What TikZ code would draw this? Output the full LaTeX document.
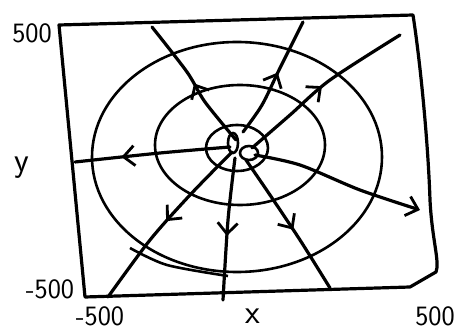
\documentclass[tikz,border=0pt]{standalone}
\usetikzlibrary{arrows.meta,decorations.markings}
\tikzset{barbtip/.tip={Straight Barb[length=11pt,width=20pt,line width=2.8pt]}}
\begin{document}
\begin{tikzpicture}[x=1pt,y=-1pt,
  ink/.style={line width=3.2pt,line cap=round,line join=round,black},
  contour/.style={line width=2.6pt,black},
  midarrow/.style={postaction={decorate},decoration={markings,
     mark=at position #1 with {\arrow{barbtip}}}},
  lab/.style={font=\sffamily\fontsize{28}{28}\selectfont,inner sep=0pt},
  letter/.style={font=\sffamily\fontsize{34}{34}\selectfont,inner sep=0pt}]
\useasboundingbox (0,0) rectangle (456,331);
% frame
\draw[ink] (59,25) -- (413,15) .. controls (420,60) and (428,140) .. (430,200)
  .. controls (432,240) and (440,262) .. (436,272) -- (410,287) -- (85,297) -- cycle;
% contours
\coordinate (c) at (237,150);
\draw[contour] (237,157) ellipse [x radius=145, y radius=115];
\draw[contour] (240,145) ellipse [x radius=85, y radius=60];
\draw[contour] (237,148) ellipse [x radius=31, y radius=23];
\draw[contour] (233,143) ellipse [x radius=5, y radius=10];
\draw[contour] (249,153) ellipse [x radius=9, y radius=7];
\draw[contour] plot[smooth] coordinates {(130,248) (167,265) (228,276)};
% trajectories
\draw[ink,midarrow=0.5] plot[smooth] coordinates {(236,140) (205,102) (187,72) (152,27)};
\draw[ink,midarrow=0.55] plot[smooth] coordinates {(243,132) (262,105) (280,68) (303,22)};
\draw[ink,midarrow=0.5] plot[smooth] coordinates {(252,148) (290,115) (330,80) (400,35)};
\draw[ink,midarrow=0.7] plot[smooth] coordinates {(230,147) (160,153) (75,162)};
\draw[ink,-{barbtip}] plot[smooth] coordinates {(255,155) (300,165) (360,190) (420,210)};
\draw[ink,midarrow=0.55] plot[smooth] coordinates {(246,160) (270,195) (300,240) (330,288)};
\draw[ink,midarrow=0.55] plot[smooth] coordinates {(235,158) (228,220) (223,300)};
\draw[ink,midarrow=0.5] plot[smooth] coordinates {(232,152) (190,195) (150,240) (108,297)};
% labels
\node[lab] (ytop) at (32,33) {500};
\node[letter] (ylab) at (22,168) {y};
\node[lab] (ybot) at (50,289) {-500};
\node[lab] (xleft) at (100,316) {-500};
\node[letter] (xlab) at (253,316) {x};
\node[lab,anchor=east] (xright) at (455,316) {500};
\end{tikzpicture}
\end{document}
